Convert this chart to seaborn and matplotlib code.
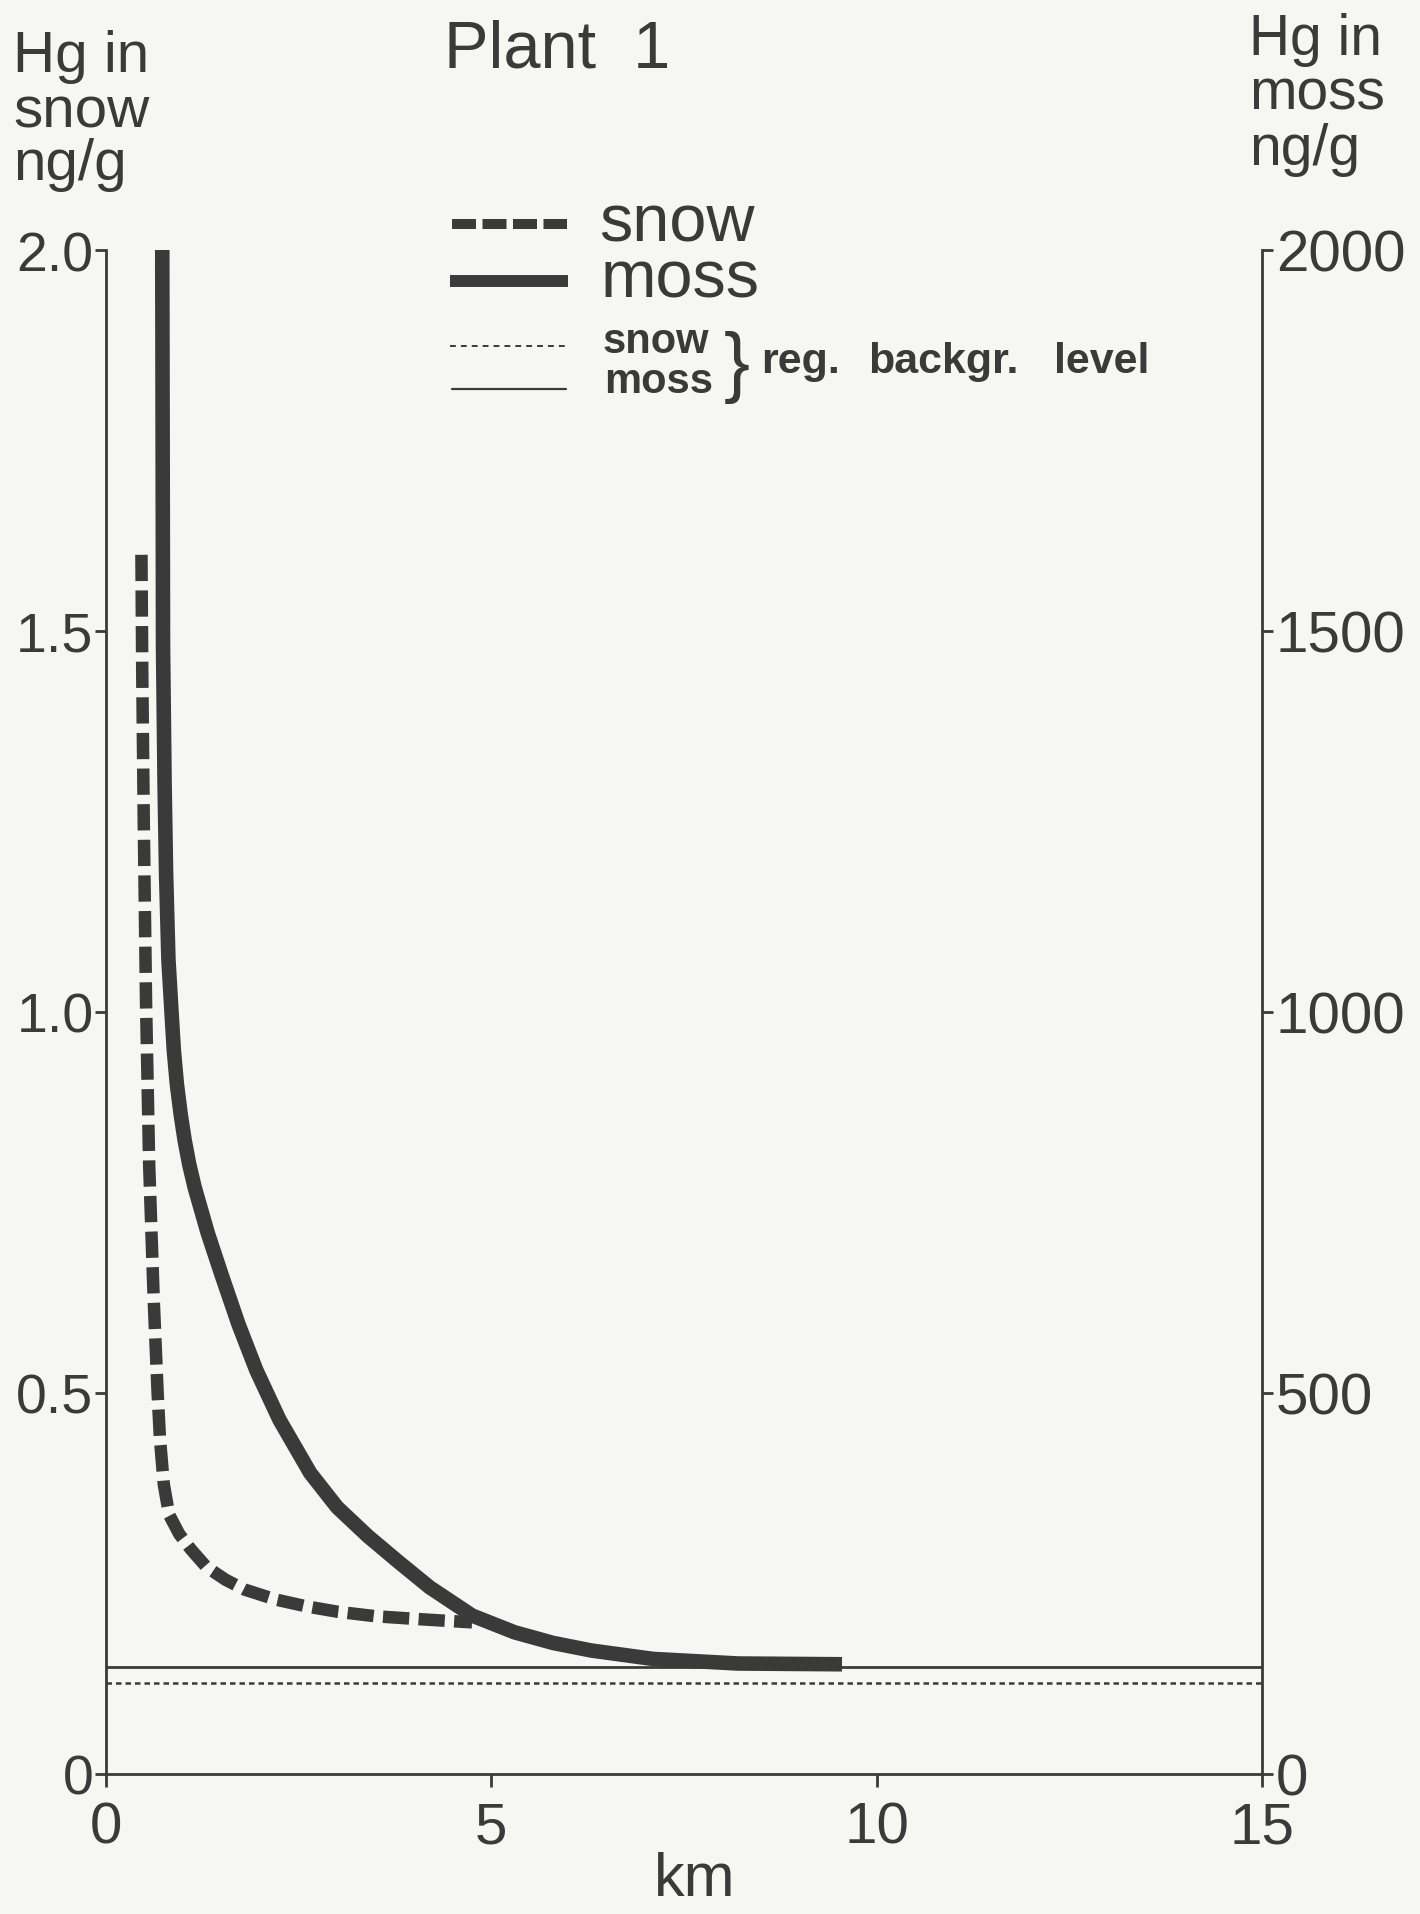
import matplotlib
matplotlib.use("Agg")
import matplotlib.pyplot as plt
import seaborn as sns
from matplotlib.lines import Line2D

# ---------------- data ----------------
snow_km = [0.46, 0.47, 0.49, 0.52, 0.56, 0.62, 0.67, 0.70, 0.75, 0.82, 0.95,
           1.10, 1.30, 1.55, 1.80, 2.20, 2.60, 3.00, 3.50, 4.10, 4.75]
snow_ng = [1.60, 1.45, 1.25, 1.01, 0.80, 0.62, 0.50, 0.44, 0.38, 0.34, 0.315,
           0.295, 0.272, 0.255, 0.242, 0.229, 0.220, 0.213, 0.207, 0.203, 0.199]

moss_km = [0.73, 0.735, 0.74, 0.76, 0.78, 0.81, 0.85, 0.88, 0.92, 0.97, 1.02,
           1.08, 1.15, 1.32, 1.50, 1.72, 1.95, 2.25, 2.65, 3.00, 3.40, 3.80,
           4.20, 4.75, 5.30, 5.80, 6.30, 7.10, 8.20, 9.55]
moss_ng = [2000, 1750, 1480, 1300, 1180, 1069, 1000, 950, 905, 865, 832,
           800, 770, 710, 655, 590, 530, 465, 395, 350, 312, 278,
           245, 208, 186, 172, 162, 151, 145, 144]

bg_km = [0, 15]
snow_bg = 0.12
moss_bg = 140

x_ticks = [0, 5, 10, 15]
x_tick_labels = ["0", "5", "10", "15"]
snow_ticks = [0, 0.5, 1.0, 1.5, 2.0]
snow_tick_labels = ["0", "0.5", "1.0", "1.5", "2.0"]
moss_ticks = [0, 500, 1000, 1500, 2000]
moss_tick_labels = ["0", "500", "1000", "1500", "2000"]

# ---------------- style ----------------
sns.set_theme(style="white")
plt.rcParams['font.family'] = ['Liberation Sans', 'DejaVu Sans']
BG = "#f6f6f2"
INK = "#3a3a3a"
W, H = 1420, 1915

fig = plt.figure(figsize=(W / 100, H / 100), dpi=100)
fig.patch.set_facecolor(BG)

L, R, T, B = 106, 1262, 251, 1775
ax = fig.add_axes([L / W, 1 - B / H, (R - L) / W, (B - T) / H])
ax.set_facecolor(BG)
ax2 = ax.twinx()

# background levels
sns.lineplot(x=bg_km, y=[snow_bg] * len(bg_km), ax=ax, color=INK, lw=1.8,
             linestyle=(0, (2.2, 1.6)), dash_capstyle="butt")
sns.lineplot(x=bg_km, y=[moss_bg] * len(bg_km), ax=ax2, color=INK, lw=2.0)

# curves
sns.lineplot(x=snow_km, y=snow_ng, ax=ax, color=INK, lw=9, sort=False,
             estimator=None, linestyle=(0, (2.1, 0.75)), dash_capstyle="butt",
             dash_joinstyle="miter")
sns.lineplot(x=moss_km, y=moss_ng, ax=ax2, color=INK, lw=10.5, sort=False,
             estimator=None, solid_capstyle="butt", solid_joinstyle="round")

# axes limits / ticks
ax.set_xlim(0, 15)
ax.set_ylim(0, 2.0)
ax2.set_ylim(0, 2000)
ax.set_xticks(x_ticks, x_tick_labels)
ax.set_yticks(snow_ticks, snow_tick_labels)
ax2.set_yticks(moss_ticks, moss_tick_labels)
ax.set_xlabel("")
ax.set_ylabel("")
ax2.set_ylabel("")

ax.tick_params(axis="x", bottom=True, direction="out", length=9, width=2,
               pad=10, labelsize=42, colors=INK)
ax.tick_params(axis="y", left=True, right=False, direction="out", length=8,
               width=2, pad=1, labelsize=40, colors=INK)
ax2.tick_params(axis="y", right=True, left=False, direction="out", length=8,
                width=2, pad=2, labelsize=42, colors=INK)

for a in (ax, ax2):
    for s in a.spines.values():
        s.set_color(INK)
        s.set_linewidth(2)
    a.spines["top"].set_visible(False)
ax.spines["right"].set_visible(False)
ax2.spines["left"].set_visible(False)
ax2.spines["bottom"].set_visible(False)
ax.grid(False)
ax2.grid(False)


def ftxt(x, y, s, **kw):
    kw.setdefault("color", INK)
    kw.setdefault("va", "baseline")
    fig.text(x / W, 1 - y / H, s, **kw)


# titles
ftxt(444, 67, "Plant  1", fontsize=48)
for txt, y in zip(["Hg in", "snow", "ng/g"], [72, 127, 180]):
    ftxt(13, y, txt, fontsize=42)
for txt, y in zip(["Hg in", "moss", "ng/g"], [55, 110, 165]):
    ftxt(1249, y, txt, fontsize=41)
ftxt(695, 1896, "km", fontsize=44, ha="center")

# legend
def fline(x0, x1, y, **kw):
    fig.add_artist(Line2D([x0 / W, x1 / W], [1 - y / H, 1 - y / H],
                          transform=fig.transFigure, color=INK, **kw))

fline(452, 567, 225, lw=7.2, linestyle=(0, (2.4, 0.65)), dash_capstyle="butt")
fline(450, 568, 282, lw=8.6, solid_capstyle="butt")
fline(450, 566, 347, lw=1.4, linestyle=(0, (3.0, 2.6)), dash_capstyle="butt")
fline(452, 566, 390, lw=1.6)

ftxt(599, 242, "snow", fontsize=48)
ftxt(601, 298, "moss", fontsize=48)
ftxt(602, 353, "snow", fontsize=30, fontweight="bold")
ftxt(604, 393, "moss", fontsize=30, fontweight="bold")
ftxt(724, 367, "}", fontsize=56, va="center")
ftxt(761, 373, "reg.", fontsize=31, fontweight="bold")
ftxt(868, 373, "backgr.", fontsize=31, fontweight="bold")
ftxt(1054, 373, "level", fontsize=31, fontweight="bold")

fig.savefig("out.png", dpi=100, facecolor=BG)
